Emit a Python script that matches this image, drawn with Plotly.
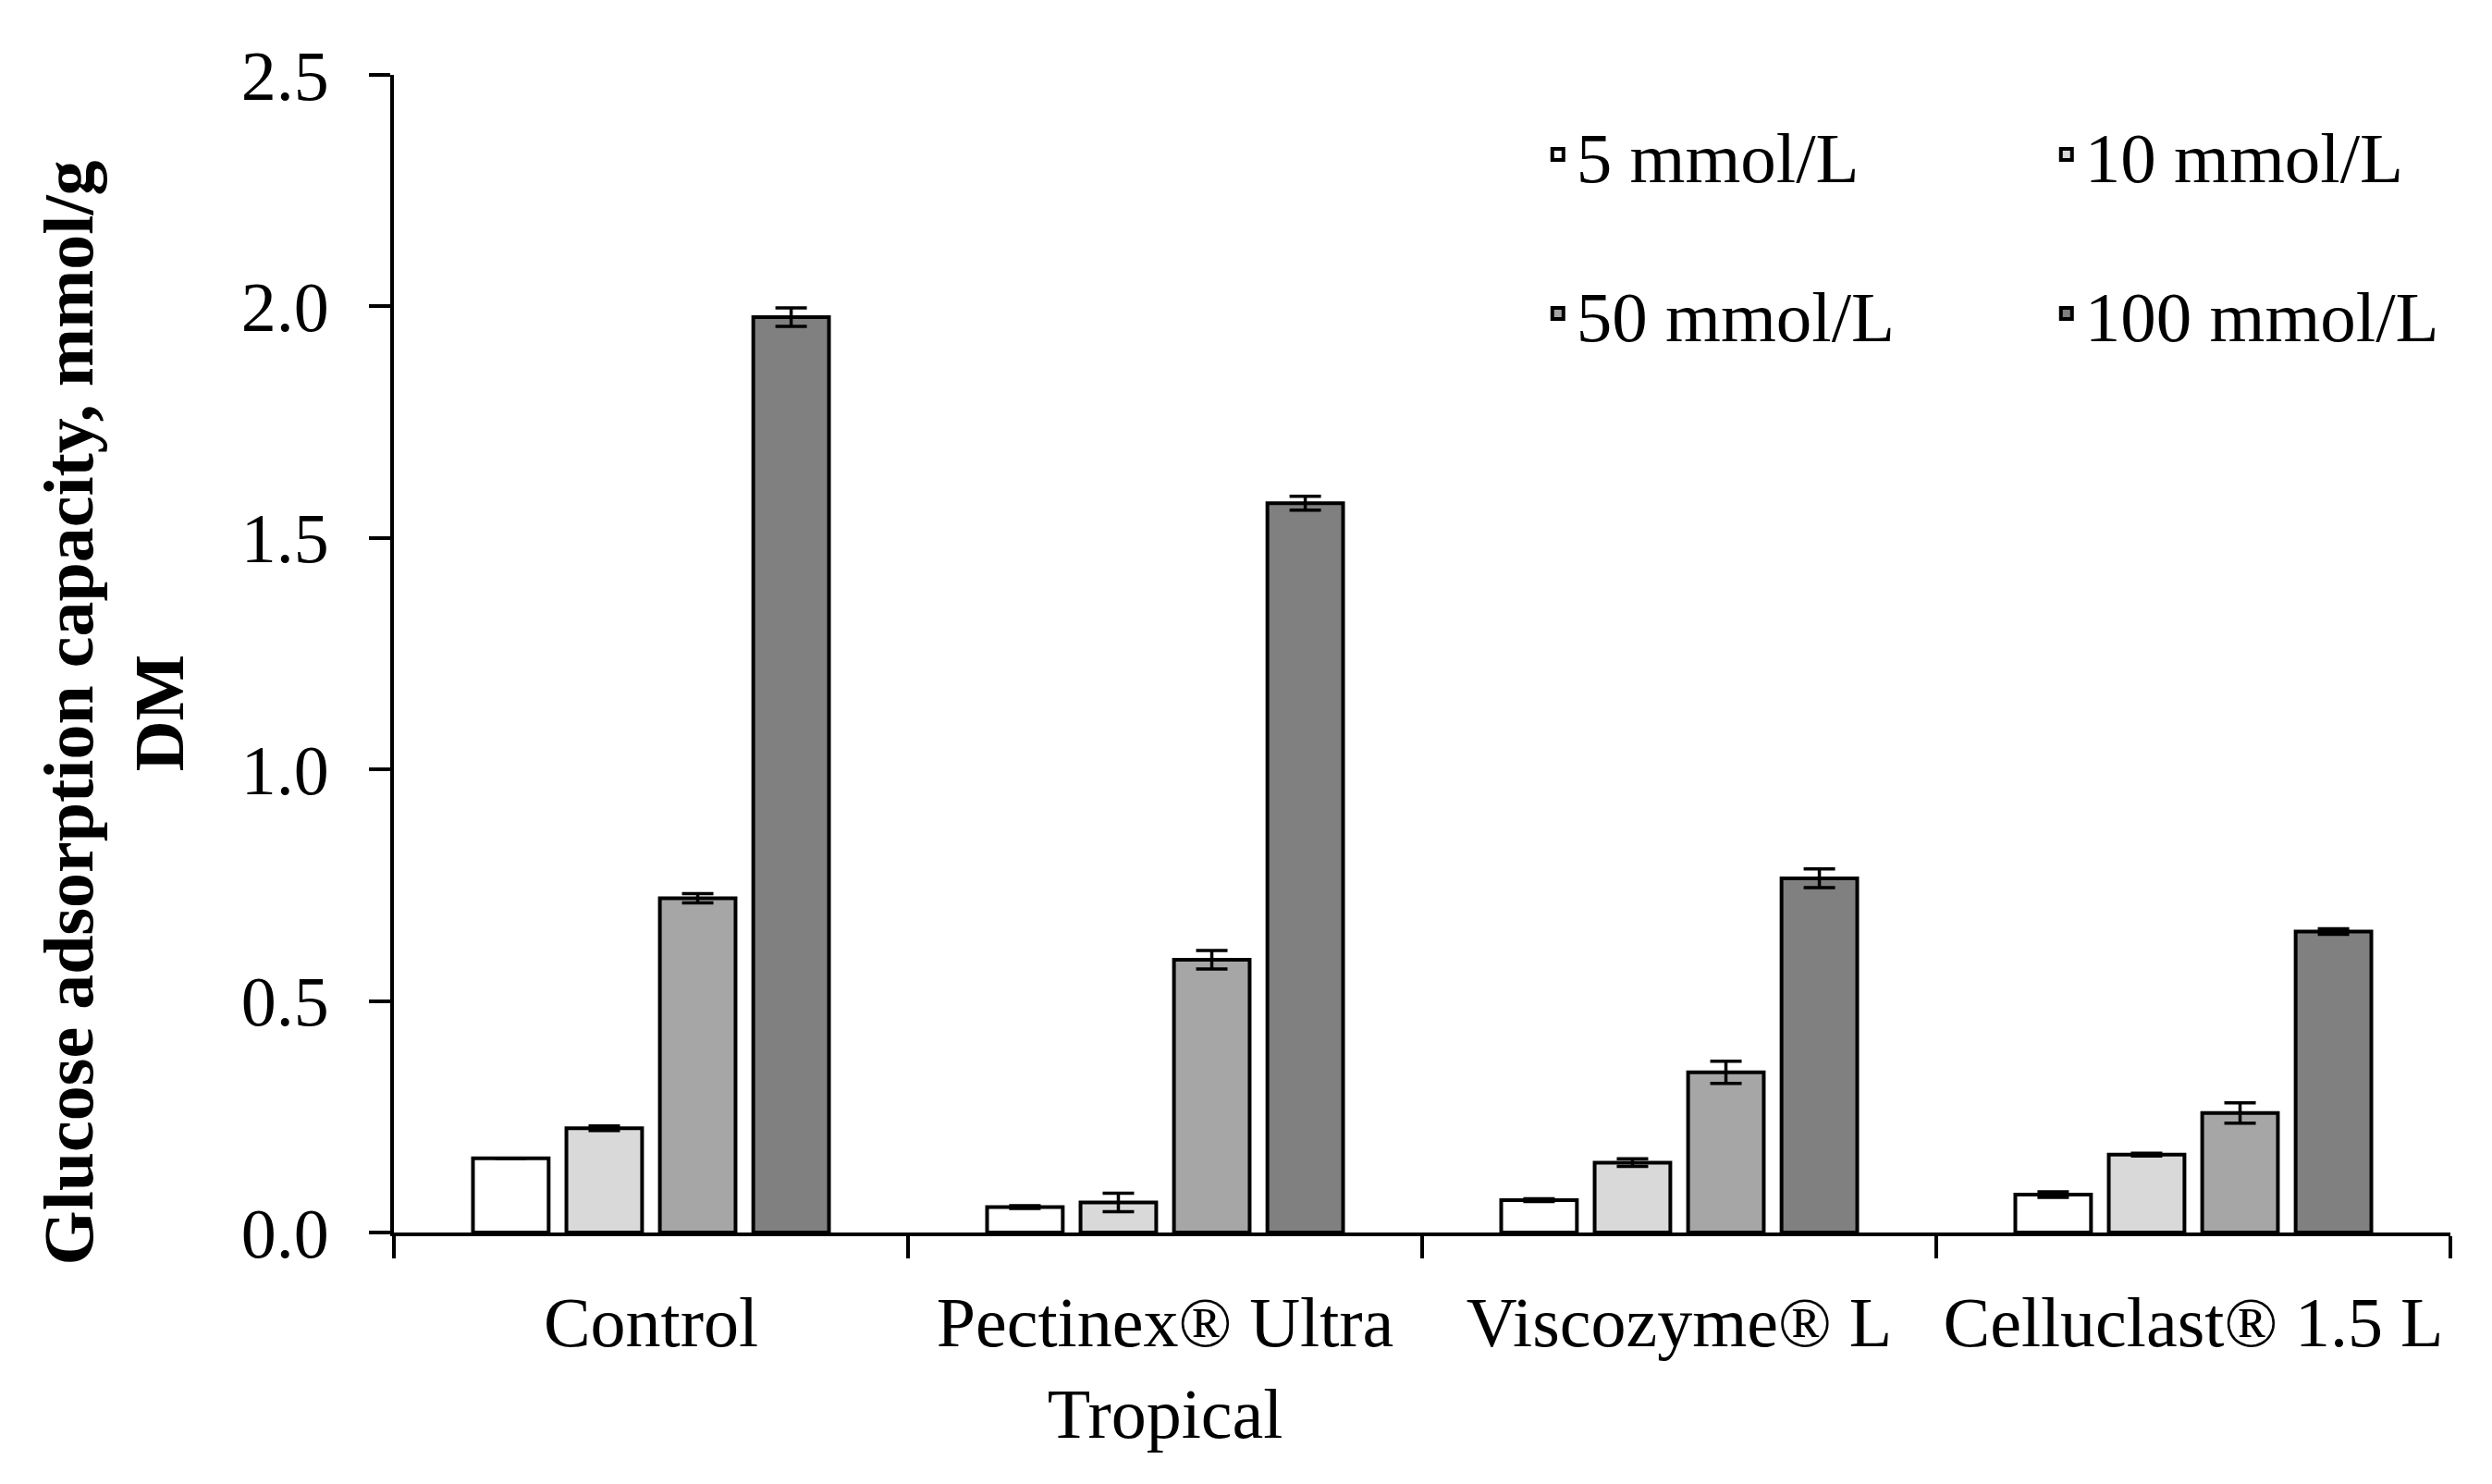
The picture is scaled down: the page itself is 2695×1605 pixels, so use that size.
import plotly.graph_objects as go

categories = ["Control", "Pectinex® Ultra<br>Tropical", "Viscozyme® L", "Celluclast® 1.5 L"]
series_names = ["5 mmol/L", "10 mmol/L", "50 mmol/L", "100 mmol/L"]
vals_5 = [0.16, 0.055, 0.07, 0.082]
vals_10 = [0.225, 0.065, 0.151, 0.168]
vals_50 = [0.722, 0.589, 0.346, 0.258]
vals_100 = [1.977, 1.575, 0.765, 0.650]
err_5 = [0.0, 0.003, 0.003, 0.006]
err_10 = [0.005, 0.02, 0.008, 0.003]
err_50 = [0.01, 0.02, 0.024, 0.022]
err_100 = [0.02, 0.015, 0.02, 0.006]
colors = ["#ffffff", "#d9d9d9", "#a6a6a6", "#808080"]
y_ticks = [0.0, 0.5, 1.0, 1.5, 2.0, 2.5]
y_title = "<b>Glucose adsorption capacity, mmol/g<br>DM</b>"

FONT = "Liberation Serif"
values = [vals_5, vals_10, vals_50, vals_100]
errors = [err_5, err_10, err_50, err_100]
legends = ["legend", "legend", "legend2", "legend2"]

fig = go.Figure()
for name, v, e, c, lg in zip(series_names, values, errors, colors, legends):
    fig.add_trace(go.Bar(
        x=categories, y=v, name=name, legend=lg,
        marker=dict(color=c, line=dict(color="black", width=4)),
        error_y=dict(type="data", array=e, visible=True, color="black",
                     thickness=3.5, width=17),
    ))

legend_common = dict(
    orientation="h", xref="paper", yref="paper", xanchor="left", yanchor="middle",
    font=dict(family=FONT, size=77, color="black"),
    bgcolor="rgba(0,0,0,0)", entrywidth=505, entrywidthmode="pixels",
    traceorder="normal",
)

fig.update_layout(
    width=2695, height=1605,
    margin=dict(l=418, r=53, t=73, b=280, autoexpand=False),
    paper_bgcolor="white", plot_bgcolor="white",
    font=dict(family=FONT, size=76, color="black"),
    barmode="group", bargap=0.273, bargroupgap=0.19,
    legend=dict(x=0.557, y=0.931, **legend_common),
    legend2=dict(x=0.557, y=0.7935, **legend_common),
    xaxis=dict(
        type="category", showline=True, linecolor="black", linewidth=4,
        ticks="outside", tickson="boundaries", ticklen=24, tickwidth=4, tickcolor="black",
        tickfont=dict(family=FONT, size=76, color="black"), ticklabelstandoff=28,
        showgrid=False, zeroline=False, automargin=False,
    ),
    yaxis=dict(
        range=[0, 2.5], tickvals=y_ticks, tickformat=".1f",
        showline=True, linecolor="black", linewidth=4,
        ticks="outside", ticklen=23, tickwidth=4, tickcolor="black",
        tickfont=dict(family=FONT, size=76, color="black"), ticklabelstandoff=28,
        showgrid=False, zeroline=False, automargin=False,
    ),
    annotations=[dict(
        text=y_title, textangle=-90, xref="paper", yref="paper",
        x=-0.136, y=0.449, xanchor="center", yanchor="middle", showarrow=False,
        font=dict(family=FONT, size=76, color="black"),
    )],
)

fig.write_html("out.html")
